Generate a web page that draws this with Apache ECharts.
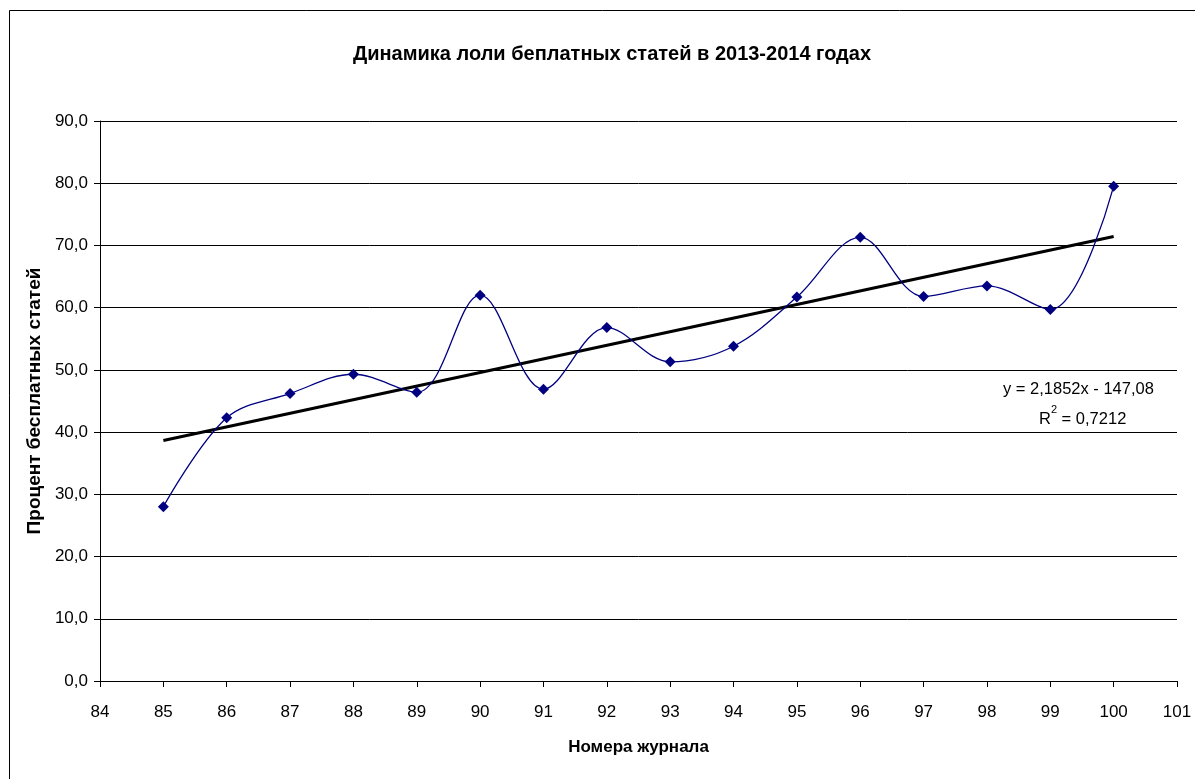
<!DOCTYPE html>
<html>
<head>
<meta charset="utf-8">
<script src="https://cdn.jsdelivr.net/npm/echarts@6/dist/echarts.min.js"></script>
<style>
  html, body { margin: 0; padding: 0; background: #fff; }
  #chart { width: 1195px; height: 779px; }
</style>
</head>
<body>
<div id="chart"></div>
<script>
// номера журналов и процент бесплатных статей
const issues = [85, 86, 87, 88, 89, 90, 91, 92, 93, 94, 95, 96, 97, 98, 99, 100];
const freeShare = [28.0, 42.3, 46.2, 49.3, 46.4, 62.0, 46.9, 56.8, 51.3, 53.8, 61.7, 71.3, 61.8, 63.5, 59.7, 79.5];

// линейный тренд из подписи
const trendSlope = 2.1852;
const trendIntercept = -147.08;
const trendLabel = 'y = 2,1852x - 147,08';
const r2Value = '0,7212';

const trendData = [issues[0], issues[issues.length - 1]].map(x => [x, trendSlope * x + trendIntercept]);

const fmt = v => v.toFixed(1).replace('.', ',');
const FONT = 'Liberation Sans, Arial, sans-serif';

let chart = echarts.init(document.getElementById('chart'));
let option = {
  backgroundColor: '#fff',
  animation: false,
  textStyle: { fontFamily: FONT },
  title: {
    text: 'Динамика лоли беплатных статей в 2013-2014 годах',
    top: 39,
    left: 607,
    textAlign: 'center',
    textStyle: { fontSize: 20, fontWeight: 'bold', color: '#000' }
  },
  grid: { left: 100, right: 18, top: 121, bottom: 98 },
  xAxis: {
    type: 'value',
    min: 84,
    max: 101,
    interval: 1,
    name: 'Номера журнала',
    nameLocation: 'middle',
    nameGap: 58,
    nameTextStyle: { fontSize: 17, fontWeight: 'bold', color: '#000' },
    axisLine: { lineStyle: { color: '#000', width: 1 } },
    axisTick: { length: 6, lineStyle: { color: '#000' } },
    axisLabel: { fontSize: 17, color: '#000', margin: 23 },
    splitLine: { show: false }
  },
  yAxis: {
    type: 'value',
    min: 0,
    max: 90,
    interval: 10,
    name: 'Процент бесплатных статей',
    nameLocation: 'middle',
    nameGap: 48,
    nameTextStyle: { fontSize: 19, fontWeight: 'bold', color: '#000' },
    axisLine: { show: true, lineStyle: { color: '#000', width: 1 } },
    axisTick: { show: true, length: 6, lineStyle: { color: '#000' } },
    axisLabel: { fontSize: 17, color: '#000', margin: 12, formatter: fmt },
    splitLine: { lineStyle: { color: '#000', width: 1 } }
  },
  series: [
    {
      name: 'Процент',
      type: 'line',
      data: issues.map((x, i) => [x, freeShare[i]]),
      smooth: 0.35,
      symbol: 'diamond',
      symbolSize: 11,
      lineStyle: { color: '#000080', width: 1.3 },
      itemStyle: { color: '#000080' },
      z: 3
    },
    {
      name: 'Тренд',
      type: 'line',
      data: trendData,
      symbol: 'none',
      lineStyle: { color: '#000', width: 3 },
      z: 2
    }
  ],
  graphic: [
    {
      type: 'rect',
      shape: { x: 9.5, y: 10.5, width: 1200, height: 800 },
      style: { fill: 'none', stroke: '#000', lineWidth: 1 },
      silent: true
    },
    {
      type: 'text',
      left: 1003,
      top: 381,
      style: { text: trendLabel, fontSize: 16.5, fill: '#000', fontFamily: FONT }
    },
    {
      type: 'text',
      left: 1039,
      top: 404,
      style: {
        text: '{b|R}{s|2}{b| = ' + r2Value + '}',
        fontFamily: FONT,
        rich: {
          b: { fontSize: 16.5, fill: '#000', verticalAlign: 'bottom', lineHeight: 24 },
          s: { fontSize: 11, fill: '#000', verticalAlign: 'top', lineHeight: 24, padding: [0, 0, 10, 0] }
        }
      }
    }
  ]
};
option && chart.setOption(option);
</script>
</body>
</html>
